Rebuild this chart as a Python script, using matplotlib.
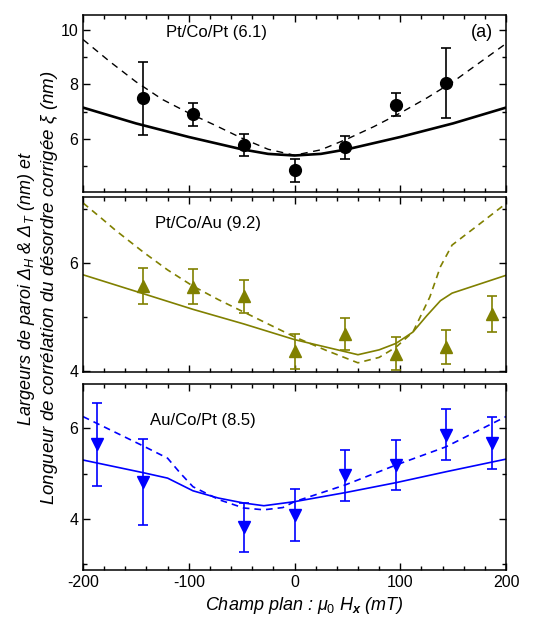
import matplotlib
matplotlib.use('Agg')
import matplotlib.pyplot as plt
from matplotlib.ticker import MultipleLocator

plt.rcParams['font.family'] = ['Liberation Sans', 'DejaVu Sans']
plt.rcParams['mathtext.fontset'] = 'custom'
plt.rcParams['mathtext.rm'] = 'Liberation Sans'
plt.rcParams['mathtext.it'] = 'Liberation Sans:italic'
plt.rcParams['mathtext.bf'] = 'Liberation Sans:italic:bold'
plt.rcParams['axes.unicode_minus'] = False

# ---- data (mT, nm) ----
# Pt/Co/Pt
x_top = [-143, -96, -48, 0, 48, 96, 143]
y_top = [7.49, 6.90, 5.78, 4.84, 5.70, 7.26, 8.06]
e_top = [1.35, 0.41, 0.39, 0.41, 0.42, 0.43, 1.29]
xs_top = [-200, -150, -100, -50, -25, 0, 25, 50, 100, 150, 200]
ys_top = [7.15, 6.57, 6.07, 5.62, 5.45, 5.39, 5.45, 5.62, 6.07, 6.57, 7.15]
xd_top = [-200, -175, -150, -125, -100, -75, -50, -25, 0, 25, 50, 75, 100, 125, 150, 175, 200]
yd_top = [9.65, 8.85, 8.10, 7.45, 6.95, 6.50, 6.03, 5.62, 5.40, 5.60, 6.00, 6.45, 6.95, 7.50, 8.10, 8.80, 9.50]

# Pt/Co/Au
x_mid = [-143, -96, -48, 0, 48, 96, 143, 187]
y_mid = [5.57, 5.56, 5.38, 4.36, 4.68, 4.32, 4.44, 5.05]
e_mid = [0.34, 0.32, 0.31, 0.32, 0.30, 0.31, 0.32, 0.33]
xs_mid = [-200, -143, -96, -48, 0, 60, 80, 96, 112, 125, 138, 149, 200]
ys_mid = [5.78, 5.43, 5.14, 4.87, 4.58, 4.30, 4.39, 4.51, 4.72, 5.02, 5.30, 5.44, 5.77]
xd_mid = [-200, -184, -169, -143, -120, -96, -72, -48, 0, 30, 60, 80, 96, 112, 128, 138, 149, 175, 200]
yd_mid = [7.11, 6.85, 6.60, 6.20, 5.87, 5.57, 5.32, 5.09, 4.63, 4.38, 4.15, 4.25, 4.44, 4.72, 5.37, 5.93, 6.33, 6.72, 7.10]

# Au/Co/Pt
x_bot = [-187, -143, -48, 0, 48, 96, 143, 187]
y_bot = [5.65, 4.81, 3.81, 4.09, 4.96, 5.19, 5.86, 5.67]
e_bot = [0.92, 0.95, 0.55, 0.57, 0.56, 0.55, 0.57, 0.57]
xs_bot = [-200, -143, -120, -96, -72, -48, -29, 0, 48, 96, 143, 200]
ys_bot = [5.30, 5.02, 4.90, 4.62, 4.46, 4.35, 4.29, 4.38, 4.58, 4.80, 5.04, 5.32]
xd_bot = [-200, -143, -120, -108, -96, -71, -48, -29, -11, 0, 48, 96, 143, 200]
yd_bot = [6.26, 5.61, 5.34, 5.01, 4.71, 4.42, 4.24, 4.20, 4.25, 4.38, 4.75, 5.19, 5.59, 6.26]

olive = '#808000'
blue = '#0000ff'

fig = plt.figure(figsize=(5.46, 6.19), dpi=100)
W, H = 546.0, 619.0
left = 83 / W
width = 423 / W


def make_ax(top_px, bot_px):
    return fig.add_axes([left, 1 - bot_px / H, width, (bot_px - top_px) / H])


ax1 = make_ax(15, 192)
ax2 = make_ax(197, 372)
ax3 = make_ax(384, 570)

for ax in (ax1, ax2, ax3):
    ax.set_xlim(-200, 200)
    ax.xaxis.set_major_locator(MultipleLocator(100))
    ax.xaxis.set_minor_locator(MultipleLocator(20))
    ax.yaxis.set_major_locator(MultipleLocator(2))
    ax.yaxis.set_minor_locator(MultipleLocator(1))
    ax.tick_params(which='both', direction='in', top=True, right=True, labelsize=11.5, width=1.0)
    ax.tick_params(which='major', length=5)
    ax.tick_params(which='minor', length=3)
    for s in ax.spines.values():
        s.set_linewidth(1.1)

ax1.tick_params(labelbottom=False)
ax2.tick_params(labelbottom=False)

ax1.set_ylim(4.05, 10.55)
ax2.set_ylim(3.98, 7.22)
ax3.set_ylim(2.87, 6.98)

# top panel
ax1.plot(xs_top, ys_top, color='black', lw=1.9)
ax1.plot(xd_top, yd_top, color='black', lw=1.0, dashes=(5, 4))
ax1.errorbar(x_top, y_top, yerr=e_top, fmt='o', color='black', ms=8.5,
             elinewidth=1.2, capsize=3.5, capthick=1.2)
ax1.text(-121.5, 9.89, 'Pt/Co/Pt (6.1)', fontsize=12, ha='left', va='center')
ax1.text(188, 9.89, '(a)', fontsize=13, ha='right', va='center')

# middle panel
ax2.plot(xs_mid, ys_mid, color=olive, lw=1.2)
ax2.plot(xd_mid, yd_mid, color=olive, lw=1.2, dashes=(4, 3))
ax2.errorbar(x_mid, y_mid, yerr=e_mid, fmt='^', color=olive, ms=9,
             elinewidth=1.2, capsize=3.5, capthick=1.2)
ax2.text(-132, 6.735, 'Pt/Co/Au (9.2)', fontsize=12, ha='left', va='center')

# bottom panel
ax3.plot(xs_bot, ys_bot, color=blue, lw=1.2)
ax3.plot(xd_bot, yd_bot, color=blue, lw=1.2, dashes=(4, 3))
ax3.errorbar(x_bot, y_bot, yerr=e_bot, fmt='v', color=blue, ms=9,
             elinewidth=1.2, capsize=3.5, capthick=1.2)
ax3.text(-136.6, 6.18, 'Au/Co/Pt (8.5)', fontsize=12, ha='left', va='center')

# labels
fig.text(304 / W, 1 - 606 / H, r'Champ plan : $\mu_{\mathit{0}}$ $H_{\mathbf{x}}$ (mT)',
         fontsize=13, style='italic', ha='center', va='center')
fig.text(27 / W, 1 - 288 / H,
         r'Largeurs de paroi Δ$_{H}$ & Δ$_{T}$ (nm) et',
         fontsize=13, style='italic', rotation=90, ha='center', va='center')
fig.text(50 / W, 1 - 288 / H,
         r'Longueur de corrélation du désordre corrigée $\xi$ (nm)',
         fontsize=13.5, style='italic', rotation=90, ha='center', va='center')

fig.savefig('out.png', dpi=100)
